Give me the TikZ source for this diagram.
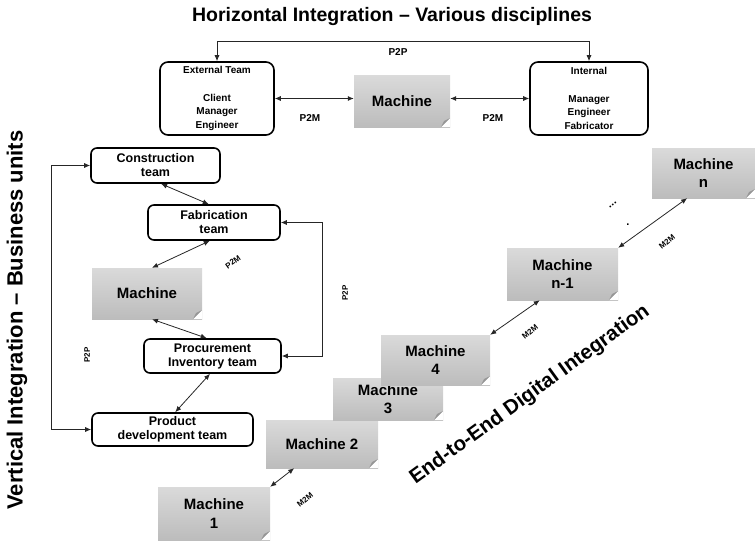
\documentclass[tikz,border=0pt]{standalone}
\usepackage{fontspec}
\setmainfont{Liberation Sans}
\usetikzlibrary{arrows.meta}

\definecolor{machtop}{RGB}{218,218,218}
\definecolor{machbot}{RGB}{188,188,188}
\definecolor{machfold}{RGB}{150,150,150}

\tikzset{
	team/.style={draw, line width=1.6pt, rounded corners=6pt, align=center, inner sep=0pt,
		font=\bfseries\fontsize{12.5}{14}\selectfont},
	crew/.style={team, rounded corners=8pt, font=\bfseries\fontsize{10}{13.7}\selectfont},
	mach/.style={top color=machtop, bottom color=machbot, align=center, inner sep=0pt,
		font=\bfseries\fontsize{15}{18.5}\selectfont,
		path picture={
			\fill[white] ([xshift=-9pt]path picture bounding box.south east) -- (path picture bounding box.south east)
				-- ([yshift=9pt]path picture bounding box.south east) -- cycle;
			\fill[machfold] ([xshift=-9pt]path picture bounding box.south east) -- ([xshift=-6pt,yshift=6pt]path picture bounding box.south east)
				-- ([yshift=9pt]path picture bounding box.south east) -- cycle;
		}},
	link/.style={<->, line width=0.8pt, draw=black!85},
	lbl/.style={font=\bfseries\fontsize{8}{9}\selectfont, inner sep=0pt},
	big/.style={font=\bfseries\fontsize{19.5}{22}\selectfont, inner sep=0pt}
}

\begin{document}
\begin{tikzpicture}[x=1pt, y=-1pt, >={Latex[length=6pt,width=5pt]}]
\useasboundingbox (0,0) rectangle (755,543);

\node[big] (htitle) at (392,17) {Horizontal Integration – Various disciplines};
\node[big, rotate=90, font=\bfseries\fontsize{22}{24}\selectfont] (vtitle) at (17,320) {Vertical Integration – Business units};
\node[big, rotate=36, font=\bfseries\fontsize{20.5}{23}\selectfont] (etitle) at (530,395) {End-to-End Digital Integration};

% horizontal row
\node[crew, minimum width=114, minimum height=73] (ext) at (217,98.5) {External Team\\[13.7pt]Client\\Manager\\Engineer};
\node[crew, minimum width=118, minimum height=73] (int) at (589,98.5) {Internal\\[13.7pt]Manager\\Engineer\\Fabricator};
\node[mach, minimum width=96, minimum height=51] (hmach) at (402,101.5) {Machine};

\draw[link] (ext.east) -- (ext.east -| hmach.west);
\draw[link] (hmach.east |- int.west) -- (int.west);
\draw[link] (ext.north) -- ++(0,-20) -| (int.north);

\node[lbl, font=\bfseries\fontsize{10}{11}\selectfont] (p2p) at (398,52) {P2P};
\node[lbl, font=\bfseries\fontsize{10}{11}\selectfont] (p2ma) at (310,118) {P2M};
\node[lbl, font=\bfseries\fontsize{10}{11}\selectfont] (p2mb) at (493,118) {P2M};

% vertical column
\node[team, minimum width=129, minimum height=35] (cons) at (155.5,165.5) {Construction\\team};
\node[team, minimum width=132, minimum height=35] (fab) at (214,222.5) {Fabrication\\team};
\node[mach, minimum width=110, minimum height=51] (vmach) at (147,293.5) {Machine};
\node[team, minimum width=137, minimum height=34] (proc) at (212.5,356) {Procurement\\Inventory team};
\node[team, minimum width=161, minimum height=33] (prod) at (172.5,429.5) {Product\\development team};

\foreach \u\v in {
cons.287/fab.106%
,fab.257/vmach.79%
,vmach.281/proc.108%
,proc.262/prod.81%
}{
	\draw[link] (\u) -- (\v);
}

\draw[link] (cons.west) -- ++(-39,0) |- (prod.west);
\draw[link] (fab.east) -- ++(42,0) |- (proc.east);

\node[lbl, rotate=90] (p2pa) at (87,355) {P2P};
\node[lbl, rotate=90] (p2pb) at (345,293) {P2P};
\node[lbl, rotate=35] (p2mc) at (233,262) {P2M};

% machine chain
\node[mach, minimum width=112, minimum height=53] (m1) at (214,513.5) {Machine\\1};
\node[mach, minimum width=112, minimum height=48] (m2) at (322,444) {Machine 2};
\node[mach, minimum width=110, minimum height=42] (m3) at (388,399) {Machine\\3};
\node[mach, minimum width=109, minimum height=50] (m4) at (435.5,360) {Machine\\4};
\node[mach, minimum width=111, minimum height=52] (mn1) at (562.5,274) {Machine\\n-1};
\node[mach, minimum width=103, minimum height=50] (mn) at (703.5,173) {Machine\\n};

\foreach \u\v in {
m1.north east/m2.221%
,m4.north east/mn1.229%
,mn1.north east/mn.237%
}{
	\draw[link] (\u) -- (\v);
}

\node[lbl, rotate=40] (m2ma) at (305,500) {M2M};
\node[lbl, rotate=40] (m2mb) at (530,332) {M2M};
\node[lbl, rotate=40] (m2mc) at (667,242) {M2M};

\node[lbl, rotate=35, font=\bfseries\fontsize{11}{12}\selectfont] (dots) at (613,205) {...};
\node[lbl, font=\bfseries\fontsize{11}{12}\selectfont] (dot) at (628,225) {.};

\end{tikzpicture}
\end{document}
